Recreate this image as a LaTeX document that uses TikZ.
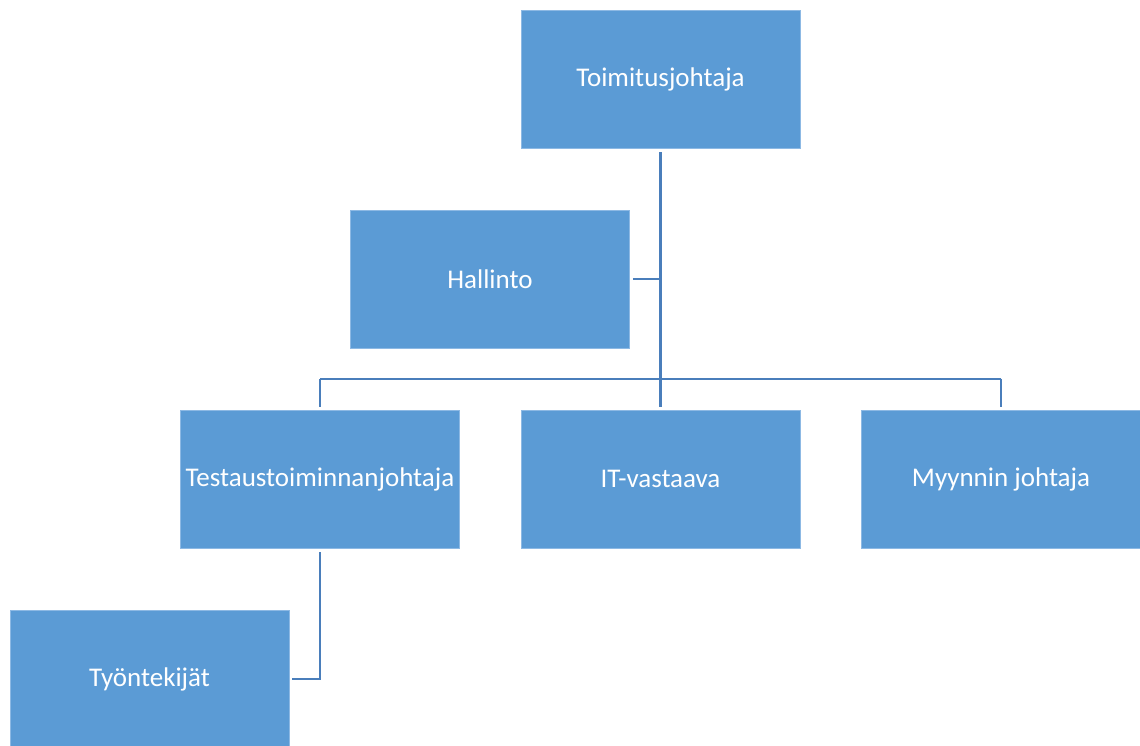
\documentclass[tikz,border=0pt]{standalone}
\usepackage{fontspec}
\setmainfont{Carlito}
\definecolor{boxfill}{HTML}{5B9BD5}
\definecolor{boxedge}{HTML}{8DB9E4}
\definecolor{linecol}{HTML}{4A7EBB}
\tikzset{
  orgbox/.style={rectangle, fill=boxfill, draw=boxedge, line width=0.6pt,
    minimum width=279pt, minimum height=138pt, inner sep=0pt,
    text=white, font=\fontsize{27}{32}\selectfont},
  conn/.style={draw=linecol, line width=2.4pt}
}
\begin{document}
\begin{tikzpicture}[x=1pt,y=-1pt]
\useasboundingbox (0,0) rectangle (1140,745);
\begin{scope}
\clip (0,0) rectangle (1140,745);
\node[orgbox] (toim) at (660.5,79) {Toimitusjohtaja};
\node[orgbox] (hall) at (490,279) {Hallinto};
\node[orgbox] (test) at (320,479) {Testaustoiminnanjohtaja};
\node[orgbox] (it) at (660.5,479) {IT-vastaava};
\node[orgbox] (myyn) at (1001,479) {Myynnin johtaja};
\node[orgbox] (tyo) at (149.5,679) {Työntekijät};
\end{scope}
\draw[conn] ([yshift=-4pt]toim.south) -- ([yshift=3pt]it.north);
\draw[conn] ([xshift=3pt]hall.east) -- (hall.east -| toim.south);
\draw[conn] ([yshift=31pt]test.north) -- ([yshift=31pt]myyn.north);
\draw[conn] ([yshift=31pt]test.north) -- ([yshift=3pt]test.north);
\draw[conn] ([yshift=31pt]myyn.north) -- ([yshift=3pt]myyn.north);
\draw[conn] ([yshift=-4pt]test.south) |- ([xshift=3pt]tyo.east);
\end{tikzpicture}
\end{document}
